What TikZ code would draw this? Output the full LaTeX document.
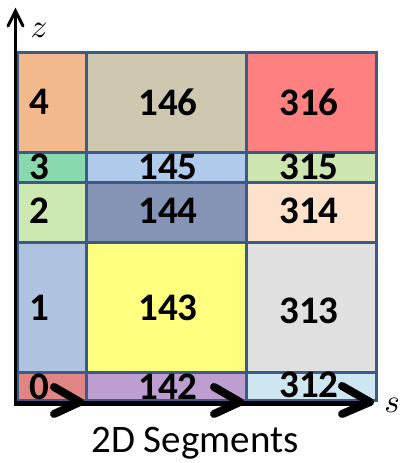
\documentclass[tikz,border=0pt]{standalone}
\usepackage{fontspec}
\setmainfont{Carlito}
\begin{document}
\begin{tikzpicture}[x=1pt,y=-1pt,
  cell/.style={draw=gridblue,line width=3pt},
  num/.style={font=\fontsize{39}{41}\selectfont\bfseries,inner sep=0pt,anchor=center},
  axis/.style={line width=3pt,black},
  chev/.style={line width=8pt,line cap=round,line join=round,black},
  axlabel/.style={scale=3.3,inner sep=0pt}
]
\definecolor{gridblue}{HTML}{3C5A86}
\definecolor{cA}{HTML}{F2B98C}\definecolor{cB}{HTML}{CEC8B0}\definecolor{cC}{HTML}{FF8080}
\definecolor{cD}{HTML}{88D9AD}\definecolor{cE}{HTML}{B0CAEC}\definecolor{cF}{HTML}{CDE6AF}
\definecolor{cG}{HTML}{CDE8B1}\definecolor{cH}{HTML}{8594B5}\definecolor{cI}{HTML}{FEE1CB}
\definecolor{cJ}{HTML}{ADC3E0}\definecolor{cK}{HTML}{FFFF80}\definecolor{cL}{HTML}{E0E0E0}
\definecolor{cM}{HTML}{E08484}\definecolor{cN}{HTML}{BE9DD1}\definecolor{cO}{HTML}{CDE6F0}
\useasboundingbox[fill=white] (0,0) rectangle (408,463);
% cells
\path[cell,fill=cA] (17,52) rectangle (86,152);
\path[cell,fill=cB] (86,52) rectangle (246,152);
\path[cell,fill=cC] (246,52) rectangle (376,152);
\path[cell,fill=cD] (17,152) rectangle (86,182);
\path[cell,fill=cE] (86,152) rectangle (246,182);
\path[cell,fill=cF] (246,152) rectangle (376,182);
\path[cell,fill=cG] (17,182) rectangle (86,242);
\path[cell,fill=cH] (86,182) rectangle (246,242);
\path[cell,fill=cI] (246,182) rectangle (376,242);
\path[cell,fill=cJ] (17,242) rectangle (86,372);
\path[cell,fill=cK] (86,242) rectangle (246,372);
\path[cell,fill=cL] (246,242) rectangle (376,372);
\path[cell,fill=cM] (17,372) rectangle (86,400);
\path[cell,fill=cN] (86,372) rectangle (246,400);
\path[cell,fill=cO] (246,372) rectangle (376,400);
% labels
\node[num] (n4) at (39,102) {4};
\node[num] (n146) at (168,102) {146};
\node[num] (n316) at (309,102) {316};
\node[num] (n3) at (39,167) {3};
\node[num] (n145) at (168,167) {145};
\node[num] (n315) at (309,167) {315};
\node[num] (n2) at (39,211) {2};
\node[num] (n144) at (168,211) {144};
\node[num] (n314) at (309,211) {314};
\node[num] (n1) at (39,308) {1};
\node[num] (n143) at (168,308) {143};
\node[num] (n313) at (309,311) {313};
\node[num] (n0) at (39,387) {0};
\node[num] (n142) at (168,387) {142};
\node[num] (n312) at (309,385) {312};
% axes
\coordinate (o) at (15.5,403);
\coordinate (ztip) at (15.5,11);
\coordinate (stip) at (372,403);
\draw[axis] (15.5,404.5) -- (ztip);
\draw[axis,line cap=round] (8,26) -- (ztip) -- (23,26);
\draw[line width=5pt,black] (14,403) -- (stip);
\draw[chev] (54,387) -- (80,402) -- (54,414);
\draw[chev] (214,387) -- (240,402) -- (214,414);
\draw[chev] (342,386) -- (370,402) -- (342,414);
\node[axlabel] (zl) at (39,30) {$z$};
\node[axlabel] (sl) at (392,405) {$s$};
\node[font=\fontsize{39}{42}\selectfont,anchor=base,inner sep=0pt] (title) at (195,452) {2D Segments};
\end{tikzpicture}
\end{document}
